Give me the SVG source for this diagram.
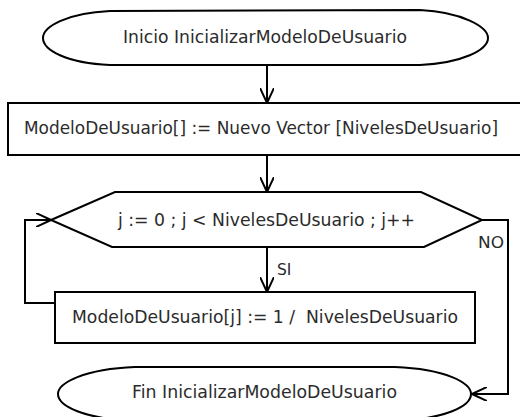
<svg xmlns="http://www.w3.org/2000/svg" width="520" height="417" viewBox="0 0 520 417">
<style>
.shape{fill:#fff;stroke:#000;stroke-width:2}
.conn{fill:none;stroke:#000;stroke-width:2;marker-end:url(#arr)}
text{font-family:"DejaVu Sans","Liberation Sans",sans-serif;font-size:17px;fill:#2b2b2b;white-space:pre}
.lbl{font-size:15.5px}
</style>
<defs>
<marker id="arr" viewBox="0 0 16 14" refX="15" refY="7" markerWidth="16" markerHeight="14" markerUnits="userSpaceOnUse" orient="auto">
<path d="M0,0 L15,7 L0,14" fill="none" stroke="#000" stroke-width="2"/>
</marker>
</defs>
<rect width="520" height="417" fill="#fff"/>
<g id="inicio">
<path class="shape" d="M110,11 L420,10 C462,12 488,27 488,38 C488,50 462,63 420,65 L110,65 C66,63 43,50 43,38 C43,27 66,13 110,11 Z"/>
<text x="123" y="43" textLength="284" lengthAdjust="spacingAndGlyphs">Inicio InicializarModeloDeUsuario</text>
</g>
<g id="crear">
<rect class="shape" x="8" y="103" width="520" height="52"/>
<text x="24" y="134" textLength="474" lengthAdjust="spacingAndGlyphs">ModeloDeUsuario[] := Nuevo Vector [NivelesDeUsuario]</text>
</g>
<g id="bucle">
<polygon class="shape" points="51,220 115,192 421,192 482,220 424,247 112,247"/>
<text x="118" y="226" textLength="297" lengthAdjust="spacingAndGlyphs">j := 0 ; j &lt; NivelesDeUsuario ; j++</text>
</g>
<g id="asignar">
<rect class="shape" x="55" y="292" width="420" height="51"/>
<text x="72" y="323" textLength="386" lengthAdjust="spacingAndGlyphs">ModeloDeUsuario[j] := 1 /  NivelesDeUsuario</text>
</g>
<g id="fin">
<path class="shape" d="M135,367 L395,367 C446,369 471,383 471,394 C471,406 446,419 395,421 L135,421 C84,419 58,406 58,394 C58,383 84,369 135,367 Z"/>
<text x="132" y="398" textLength="265" lengthAdjust="spacingAndGlyphs">Fin InicializarModeloDeUsuario</text>
</g>
<g id="connectors">
<path class="conn" d="M267,65 L267,103"/>
<path class="conn" d="M267,155 L267,192"/>
<path class="conn" d="M267,247 L267,292"/>
<path class="conn" d="M55,303 L25,303 L25,220 L51,220"/>
<path class="conn" d="M482,220 L508,220 L508,394 L472,394"/>
<text class="lbl" x="277" y="275">SI</text>
<text class="lbl" x="478" y="248" textLength="26" lengthAdjust="spacingAndGlyphs">NO</text>
</g>
</svg>
